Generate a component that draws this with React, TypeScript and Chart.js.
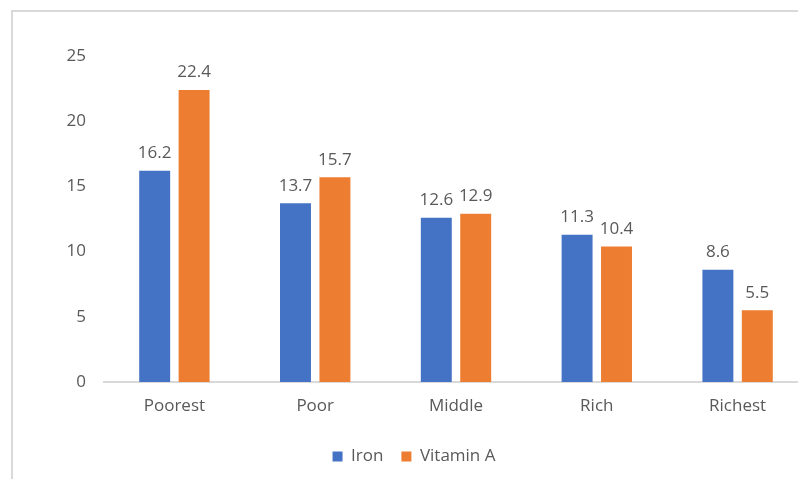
import React, { useEffect, useRef } from "react";
import { Chart, registerables } from "chart.js";

Chart.register(...registerables);

const categories = ["Poorest", "Poor", "Middle", "Rich", "Richest"];
const ironValues = [16.2, 13.7, 12.6, 11.3, 8.6];
const vitaminAValues = [22.4, 15.7, 12.9, 10.4, 5.5];
const seriesNames = ["Iron", "Vitamin A"];
const yTicks = [0, 5, 10, 15, 20, 25];

const FONT = "'Open Sans', 'DejaVu Sans', sans-serif";
const TEXT = "#595959";
const FS = 17;

const valueLabels = {
  id: "valueLabels",
  afterDatasetsDraw(chart: any) {
    const ctx = chart.ctx;
    ctx.save();
    ctx.font = `${FS}px ${FONT}`;
    ctx.fillStyle = TEXT;
    ctx.textAlign = "center";
    ctx.textBaseline = "bottom";
    chart.data.datasets.forEach((ds: any, di: number) => {
      const meta = chart.getDatasetMeta(di);
      meta.data.forEach((bar: any, i: number) => {
        ctx.fillText(String(ds.data[i]), bar.x, bar.y - 9);
      });
    });
    ctx.restore();
  },
};

export default function App() {
  const ref = useRef<HTMLCanvasElement>(null);
  useEffect(() => {
    const chart = new Chart(ref.current!, {
      type: "bar",
      data: {
        labels: categories,
        datasets: [
          { label: seriesNames[0], data: ironValues, backgroundColor: "#4472C4", categoryPercentage: 0.56, barPercentage: 0.785 },
          { label: seriesNames[1], data: vitaminAValues, backgroundColor: "#ED7D31", categoryPercentage: 0.56, barPercentage: 0.785 },
        ],
      },
      options: {
        animation: false,
        responsive: false,
        devicePixelRatio: 1,
        layout: { padding: { top: 56, left: 0, right: 0, bottom: 4 } },
        plugins: {
          tooltip: { enabled: false },
          legend: {
            position: "bottom",
            labels: {
              boxWidth: 10,
              boxHeight: 10,
              padding: 18,
              color: TEXT,
              font: { family: FONT, size: FS },
            },
          },
        },
        scales: {
          x: {
            grid: { display: false, drawTicks: false },
            border: { display: true, color: "#d9d9d9", width: 2 },
            ticks: { color: TEXT, font: { family: FONT, size: FS }, padding: 14 },
            afterFit: (s: any) => { s.height = 48; },
          },
          y: {
            min: 0,
            max: 25,
            grid: { display: false, drawTicks: false },
            border: { display: false },
            ticks: {
              stepSize: 5,
              color: TEXT,
              font: { family: FONT, size: FS },
              padding: 18,
              callback: (v: any) => (yTicks.includes(Number(v)) ? String(v) : ""),
            },
            afterFit: (s: any) => { s.width = 104; },
          },
          y2: {
            position: "right",
            min: 0,
            max: 25,
            grid: { display: false, drawTicks: false },
            border: { display: false },
            ticks: { display: false },
            afterFit: (s: any) => { s.width = 20; },
          },
        },
      },
      plugins: [valueLabels],
    });
    return () => chart.destroy();
  }, []);
  return (
    <div style={{ position: "fixed", left: 0, top: 0, width: 798, height: 479, overflow: "hidden", background: "#fff" }}>
      <div style={{ position: "absolute", left: 11, top: 10, width: 900, height: 600, border: "2px solid #d9d9d9", boxSizing: "border-box" }} />
      <canvas ref={ref} width={828} height={479} style={{ position: "absolute", left: 0, top: 0, width: 828, height: 479 }} />
    </div>
  );
}
